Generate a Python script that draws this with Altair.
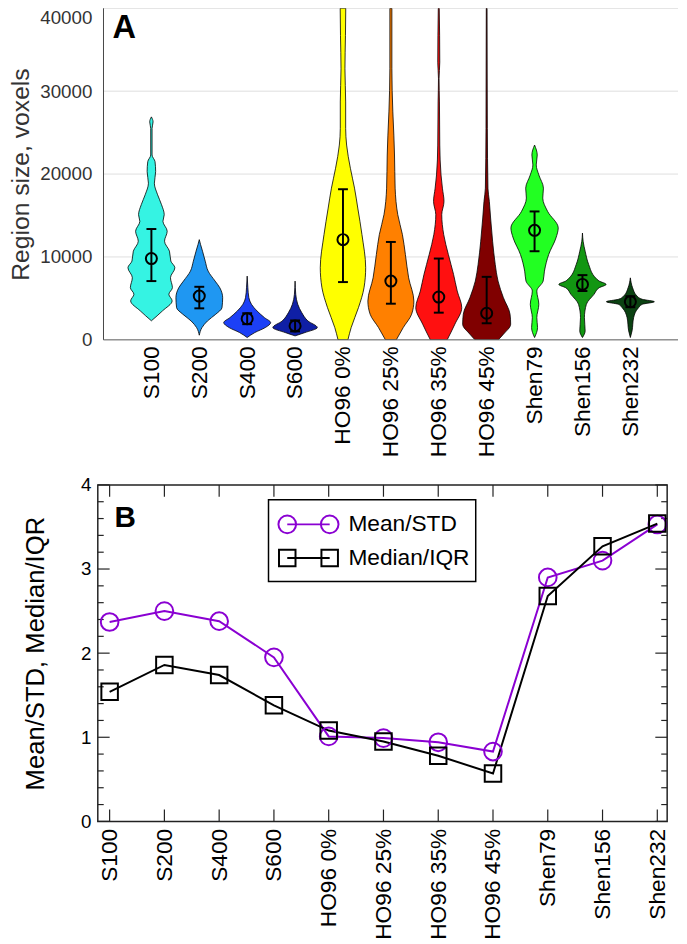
import json
import altair as alt
import pandas as pd

# ---------------- data ----------------
categories = ["S100", "S200", "S400", "S600", "HO96 0%", "HO96 25%", "HO96 35%",
              "HO96 45%", "Shen79", "Shen156", "Shen232"]
colors = ["#35f3e3", "#1f97f2", "#1c40f6", "#0f1fa5", "#ffff00", "#ff8000",
          "#ff1010", "#800000", "#22ff22", "#129612", "#0b4212"]

# violin outlines: region size (voxels) and half-width (fraction of a category slot)
s100_size = [2300, 3500, 4700, 5500, 6300, 7500, 8700, 9500, 10700, 11900, 13100, 14300,
             15100, 16300, 17500, 18900, 20300, 21500, 22300, 25500, 26300, 26900]
s100_half = [0, .233, .433, .365, .439, .398, .490, .406, .377, .274, .330, .241,
             .268, .212, .130, .062, .089, .076, .014, .014, .035, 0]
s200_size = [560, 1480, 2280, 3090, 3880, 5080, 6280, 7090, 8290, 9490, 10690, 11490, 12090]
s200_half = [0, .056, .171, .344, .474, .488, .429, .330, .185, .124, .068, .027, 0]
s400_size = [280, 880, 1480, 2080, 2680, 3480, 4290, 5080, 6280, 7690]
s400_half = [0, .159, .377, .490, .361, .206, .089, .035, .014, 0]
s600_size = [480, 880, 1480, 2280, 3290, 4290, 5490, 7090]
s600_half = [0, .206, .464, .268, .138, .056, .014, 0]
ho0_size = [0, 1480, 3880, 6280, 8700, 12700, 15900, 18300, 20700, 23500, 25500, 28700,
            32700, 36700, 40000]
ho0_half = [.103, .171, .323, .439, .474, .396, .309, .241, .155, .076, .056, .056,
            .041, .052, .058]
ho25_size = [0, 1480, 3090, 4680, 7480, 10300, 12700, 15100, 18300, 22300, 24700, 27500,
             32700, 40000]
ho25_half = [.113, .258, .433, .480, .371, .303, .241, .144, .089, .076, .062, .041,
             .021, .021]
ho35_size = [0, 1890, 3880, 5890, 7890, 10300, 12700, 15100, 16700, 18300, 19900, 23500,
             28700, 31500, 33500, 40000]
ho35_half = [.175, .336, .480, .385, .309, .200, .103, .062, .109, .076, .047, .021,
             .014, .006, .021, .010]
ho45_size = [0, 680, 1890, 3090, 5080, 7090, 9090, 11900, 14700, 16700, 18300, 25500, 40000]
ho45_half = [.243, .350, .501, .488, .350, .237, .179, .124, .082, .056, .027, .014, .008]
shen79_size = [280, 1480, 2680, 4290, 5890, 7090, 8290, 10300, 12300, 13500, 15500, 17100,
               18300, 19900, 21100, 22300, 23500]
shen79_half = [0, .062, .047, .089, .047, .179, .206, .295, .447, .494, .272, .171,
               .185, .089, .035, .056, 0]
shen156_size = [280, 1080, 2680, 4290, 5490, 6290, 6690, 7090, 7480, 9090, 10690, 11890, 12890]
shen156_half = [0, .056, .041, .082, .241, .350, .494, .350, .274, .130, .056, .014, 0]
shen232_size = [280, 1080, 2680, 3880, 4290, 4600, 4890, 5290, 6280, 7480]
shen232_half = [0, .035, .068, .171, .250, .501, .250, .138, .047, 0]

# central marker and error bar for every atlas (voxels)
center_size = [9810, 5280, 2550, 1680, 12090, 7090, 5160, 3210, 13210, 6690, 4600]
err_low = [7090, 3800, 1890, 1020, 6970, 4360, 3280, 2000, 10690, 5890, 3940]
err_high = [13370, 6400, 3210, 2340, 18170, 11810, 9810, 7600, 15490, 7810, 5260]

# panel B
series_names = ["Mean/STD", "Median/IQR"]
series_colors = ["#8a00d2", "#000000"]
mean_std = [2.37, 2.50, 2.38, 1.95, 1.01, 0.99, 0.94, 0.83, 2.90, 3.10, 3.53]
median_iqr = [1.54, 1.86, 1.74, 1.38, 1.08, 0.95, 0.78, 0.57, 2.68, 3.27, 3.54]

gridA_values = [10000, 20000, 30000, 40000]
yA_ticks = [0, 10000, 20000, 30000, 40000]
yB_major = [0, 1, 2, 3, 4]
yB_minor = [0.2, 0.4, 0.6, 0.8, 1.2, 1.4, 1.6, 1.8, 2.2, 2.4, 2.6, 2.8,
            3.2, 3.4, 3.6, 3.8]

# ---------------- tables ----------------
sizes = [s100_size, s200_size, s400_size, s600_size, ho0_size, ho25_size, ho35_size,
         ho45_size, shen79_size, shen156_size, shen232_size]
halves = [s100_half, s200_half, s400_half, s600_half, ho0_half, ho25_half, ho35_half,
          ho45_half, shen79_half, shen156_half, shen232_half]
rows = []
for i, (cat, sz, hw) in enumerate(zip(categories, sizes, halves)):
    for s, h in zip(sz, hw):
        rows.append({"group": cat, "pos": i + 1, "size": s, "left": i + 1 - h, "right": i + 1 + h})
violin_df = pd.DataFrame(rows)

err_df = pd.DataFrame({"group": categories, "pos": list(range(1, len(categories) + 1)),
                       "center": center_size, "lo": err_low, "hi": err_high})

b_df = pd.DataFrame({"pos": list(range(1, len(categories) + 1)),
                     "mean_std": mean_std, "median_iqr": median_iqr})

one = pd.DataFrame({"a": [0]})
label_expr = "%s[round(datum.value) - 1]" % json.dumps(categories)

# ---------------- panel A ----------------
W_A, H_A = 588, 336
xA_max = 11.995
xA = alt.Scale(domain=[-0.119, xA_max], nice=False, zero=False)
yA = alt.Scale(domain=[0, 40000], nice=False)

yaxisA = alt.Axis(values=yA_ticks, format="d", labelFontSize=19, labelColor="#333333",
                  labelBaseline=alt.condition("datum.value >= 40000", alt.value("top"),
                                              alt.value("middle")),
                  title="Region size, voxels", titleFontSize=25, titleFontWeight="normal",
                  titleColor="#333333", domain=False, ticks=False, tickSize=0, grid=False,
                  labelPadding=6, titlePadding=6)
xaxisA = alt.Axis(values=list(range(1, 12)), labelExpr=label_expr, labelAngle=-90,
                  labelFontSize=23, labelColor="black", domain=False, ticks=False,
                  tickSize=0, grid=False, labelPadding=6, title="")


def XA(field):
    return alt.X(field, type="quantitative", scale=xA, axis=xaxisA)


def YA(field):
    return alt.Y(field, type="quantitative", scale=yA, axis=yaxisA)


def XAd(v):
    return alt.XDatum(v, type="quantitative", scale=xA, axis=xaxisA)


def YAd(v):
    return alt.YDatum(v, type="quantitative", scale=yA, axis=yaxisA)


gridA = alt.Chart(pd.DataFrame({"v": gridA_values})).mark_rule(
    color="#dedede", strokeWidth=1).encode(
    y=YA("v"), x=XAd(0), x2=alt.X2Datum(xA_max))

violins = alt.Chart(violin_df).mark_area(
    orient="horizontal", interpolate="monotone", stroke="black", strokeWidth=0.8,
    opacity=1, clip=True).encode(
    y=YA("size"),
    x=XA("left"),
    x2="right:Q",
    color=alt.Color("group:N", scale=alt.Scale(domain=categories, range=colors), legend=None),
    detail="group:N",
)

err_rule = alt.Chart(err_df).mark_rule(color="black", strokeWidth=2).encode(
    x=XA("pos"), y=YA("lo"), y2="hi:Q")
cap_lo = alt.Chart(err_df).mark_tick(orient="horizontal", size=10, thickness=2,
                                     color="black", opacity=1).encode(x=XA("pos"), y=YA("lo"))
cap_hi = alt.Chart(err_df).mark_tick(orient="horizontal", size=10, thickness=2,
                                     color="black", opacity=1).encode(x=XA("pos"), y=YA("hi"))
centers = alt.Chart(err_df).mark_point(shape="circle", size=125, filled=False,
                                       color="black", strokeWidth=2, opacity=1).encode(
    x=XA("pos"), y=YA("center"))

axis_left = alt.Chart(one).mark_rule(color="#444444", strokeWidth=1).encode(
    x=XAd(0), y=YAd(0), y2=alt.Y2Datum(40000))
axis_bottom = alt.Chart(one).mark_rule(color="#555555", strokeWidth=1).encode(
    y=YAd(0), x=XAd(0), x2=alt.X2Datum(xA_max))

letterA = alt.Chart(one).mark_text(text="A", fontSize=33, fontWeight="bold", align="left",
                                   baseline="alphabetic", color="black").encode(
    x=alt.value(15), y=alt.value(30))

panelA = alt.layer(gridA, violins, axis_left, axis_bottom, err_rule, cap_lo, cap_hi,
                   centers, letterA).properties(
    width=W_A, height=H_A, view=alt.ViewBackground(stroke="transparent"))

# ---------------- panel B ----------------
W_B, H_B = 577, 341
xB = alt.Scale(domain=[0.784, 11.18], nice=False, zero=False)
yB = alt.Scale(domain=[0, 4], nice=False)

yaxisB = alt.Axis(values=yB_major, labelFontSize=19, labelColor="black",
                  title="Mean/STD, Median/IQR", titleFontSize=26, titleFontWeight="normal",
                  titleColor="black", domain=False, ticks=False, tickSize=0, grid=False,
                  labelPadding=7, titlePadding=32)
xaxisB = alt.Axis(values=list(range(1, 12)), labelExpr=label_expr, labelAngle=-90,
                  labelFontSize=23, labelColor="black", domain=False, ticks=False,
                  tickSize=0, grid=False, labelPadding=7, title="")


def XB(field):
    return alt.X(field, type="quantitative", scale=xB, axis=xaxisB)


def YB(field):
    return alt.Y(field, type="quantitative", scale=yB, axis=yaxisB)


def ytick_layer(values, length, right):
    if right:
        xx, xx2 = alt.value(W_B), alt.value(W_B - length)
    else:
        xx, xx2 = alt.value(0), alt.value(length)
    return alt.Chart(pd.DataFrame({"v": values})).mark_rule(
        color="#222222", strokeWidth=1.2).encode(y=YB("v"), x=xx, x2=xx2)


def xtick_layer(length, top):
    if top:
        yy, yy2 = alt.value(0), alt.value(length)
    else:
        yy, yy2 = alt.value(H_B), alt.value(H_B - length)
    return alt.Chart(b_df).mark_rule(color="#222222", strokeWidth=1.2).encode(
        x=XB("pos"), y=yy, y2=yy2)


tick_layers = [ytick_layer(yB_major, 12, False), ytick_layer(yB_minor, 6, False),
               ytick_layer(yB_major, 12, True), ytick_layer(yB_minor, 6, True),
               xtick_layer(12, True), xtick_layer(12, False)]

base_b = alt.Chart(b_df)
line_mean = base_b.mark_line(color=series_colors[0], strokeWidth=2).encode(
    x=XB("pos"), y=YB("mean_std"))
pts_mean = base_b.mark_point(shape="circle", size=320, filled=False, color=series_colors[0],
                             strokeWidth=2, opacity=1).encode(x=XB("pos"), y=YB("mean_std"))
line_med = base_b.mark_line(color=series_colors[1], strokeWidth=2).encode(
    x=XB("pos"), y=YB("median_iqr"))
pts_med = base_b.mark_point(shape="square", size=280, filled=False, color=series_colors[1],
                            strokeWidth=2, opacity=1).encode(x=XB("pos"), y=YB("median_iqr"))

# legend (drawn in panel pixel space)
legend_layers = [alt.Chart(one).mark_rect(fill="white", stroke="black", strokeWidth=1.5).encode(
    x=alt.value(173), x2=alt.value(383), y=alt.value(15), y2=alt.value(98))]
legend_shapes = [("circle", 320), ("square", 280)]
for i, (name, col) in enumerate(zip(series_names, series_colors)):
    ypx = 40 + 34 * i
    shp, sz = legend_shapes[i]
    legend_layers.append(alt.Chart(one).mark_rule(color=col, strokeWidth=2).encode(
        x=alt.value(192), x2=alt.value(235), y=alt.value(ypx)))
    for xpx in (192, 235):
        legend_layers.append(alt.Chart(one).mark_point(
            shape=shp, size=sz, filled=False, color=col, strokeWidth=2, opacity=1).encode(
            x=alt.value(xpx), y=alt.value(ypx)))
    legend_layers.append(alt.Chart(one).mark_text(
        text=name, fontSize=23, align="left", baseline="middle", color="black").encode(
        x=alt.value(254), y=alt.value(ypx)))

letterB = alt.Chart(one).mark_text(text="B", fontSize=30, fontWeight="bold", align="left",
                                   baseline="alphabetic", color="black").encode(
    x=alt.value(17), y=alt.value(43))

panelB = alt.layer(*tick_layers, line_mean, line_med, pts_mean, pts_med, *legend_layers,
                   letterB).properties(
    width=W_B, height=H_B,
    view=alt.ViewBackground(stroke="#222222", strokeWidth=1.5))

chart = alt.vconcat(panelA, panelB, spacing=17).properties(
    padding={"left": 0, "top": -7, "right": 0, "bottom": 0}
).configure(font="Liberation Sans").configure_axis(
    labelFont="Liberation Sans", titleFont="Liberation Sans")

chart.save("out.html", embed_options={"renderer": "svg", "actions": False})
